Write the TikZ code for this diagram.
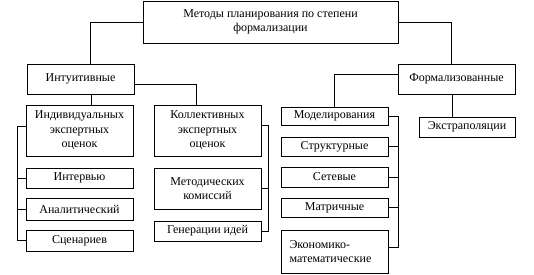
\documentclass[tikz,border=0pt]{standalone}
\usepackage{fontspec}
\setmainfont{Liberation Serif}
\usetikzlibrary{calc}
\begin{document}
\begin{tikzpicture}[x=1pt,y=-1pt,
  box/.style={draw,rectangle,inner sep=0pt,align=center,font=\fontsize{12}{14.5}\selectfont},
  conn/.style={draw,line width=0.8pt},
  every node/.append style={line width=0.8pt}]
\useasboundingbox (0,0) rectangle (534,274);
\node[box,minimum width=255pt,minimum height=42pt] (top) at (270.5,22) {Методы планирования по степени\\формализации};
\node[box,minimum width=107pt,minimum height=30pt] (intu) at (80.5,79) {Интуитивные};
\node[box,minimum width=117pt,minimum height=30pt] (form) at (456.5,79) {Формализованные};
\node[box,minimum width=107pt,minimum height=51pt] (ind) at (79.5,130.5) {Индивидуальных\\экспертных\\оценок};
\node[box,minimum width=107pt,minimum height=51pt] (col) at (207.5,130.5) {Коллективных\\экспертных\\оценок};
\node[box,minimum width=107pt,minimum height=20pt] (intv) at (79.5,178) {Интервью};
\node[box,minimum width=107pt,minimum height=22pt] (anal) at (79.5,209) {Аналитический};
\node[box,minimum width=107pt,minimum height=21pt] (scen) at (79.5,240.5) {Сценариев};
\node[box,minimum width=107pt,minimum height=41pt] (meth) at (207.5,188.5) {Методических\\комиссий};
\node[box,minimum width=107pt,minimum height=20pt] (gen) at (207.5,231) {Генерации идей};
\node[box,minimum width=107pt,minimum height=18pt] (mod) at (334.5,116) {Моделирования};
\node[box,minimum width=107pt,minimum height=19pt] (str) at (334.5,146.5) {Структурные};
\node[box,minimum width=107pt,minimum height=20pt] (net) at (334.5,177) {Сетевые};
\node[box,minimum width=107pt,minimum height=19pt] (mat) at (334.5,207.5) {Матричные};
\node[box,minimum width=107pt,minimum height=43pt,text width=90pt,align=left] (eco) at (334.5,251.5) {Экономико-\\математические};
\node[box,minimum width=96pt,minimum height=20pt] (ext) at (467,127) {Экстраполяции};
% bus positions
\coordinate (lbus) at (17,0);
\coordinate (cbus) at (268,0);
\coordinate (rbus) at (398,0);
\coordinate (indT) at ($(ind.west)+(0,-4.5)$);
\coordinate (colT) at ($(col.east)+(0,-5.5)$);
\coordinate (ecoT) at ($(eco.east)+(0,-4.5)$);
\coordinate (intuB) at ($(intu.south)+(10.5,0)$);
\coordinate (intuR) at ($(intu.east)+(0,5)$);
\coordinate (colN) at ($(col.north)+(-11.5,0)$);
\coordinate (formL) at ($(form.west)+(0,-5)$);
\coordinate (formB) at ($(form.south)+(-4.5,0)$);
\coordinate (intuN) at ($(intu.north)+(10,0)$);
\coordinate (formN) at ($(form.north)+(-5,0)$);
% connectors
\draw[conn] (top.west) -| (intuN);
\draw[conn] (top.east) -| (formN);
\draw[conn] (intuB) -- (intuB |- ind.north);
\draw[conn] (intuR) -| (colN);
\draw[conn] (formL) -| (mod.north);
\draw[conn] (formB) -- (formB |- ext.north);
\draw[conn] (indT) -| (lbus |- scen.west) -- (scen.west);
\draw[conn] (intv.west) -- (intv.west -| lbus);
\draw[conn] (anal.west) -- (anal.west -| lbus);
\draw[conn] (colT) -| (cbus |- gen.east) -- (gen.east);
\draw[conn] (meth.east) -- (meth.east -| cbus);
\draw[conn] (mod.east) -| (ecoT -| rbus) -- (ecoT);
\draw[conn] (str.east) -- (str.east -| rbus);
\draw[conn] (net.east) -- (net.east -| rbus);
\draw[conn] (mat.east) -- (mat.east -| rbus);
\end{tikzpicture}
\end{document}
